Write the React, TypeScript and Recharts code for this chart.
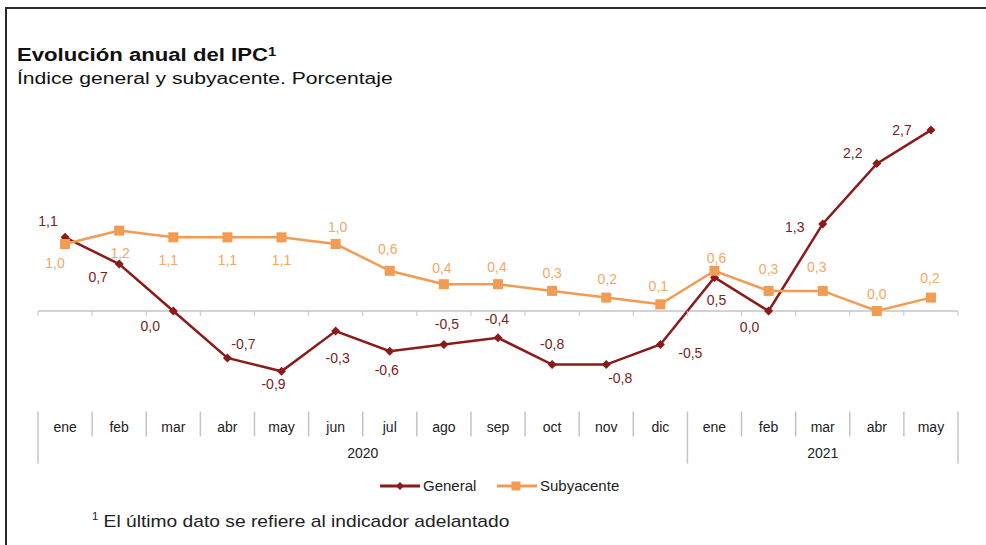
import { LineChart, Line, XAxis, YAxis, ReferenceLine, LabelList } from "recharts";

const months = ["ene", "feb", "mar", "abr", "may", "jun", "jul", "ago", "sep", "oct", "nov", "dic", "ene", "feb", "mar", "abr", "may"];
const yearLabels = ["2020", "2021"];
const yearSpans = [12, 5];
const general = [1.1, 0.7, 0.0, -0.7, -0.9, -0.3, -0.6, -0.5, -0.4, -0.8, -0.8, -0.5, 0.5, 0.0, 1.3, 2.2, 2.7];
const subyacente = [1.0, 1.2, 1.1, 1.1, 1.1, 1.0, 0.6, 0.4, 0.4, 0.3, 0.2, 0.1, 0.6, 0.3, 0.3, 0.0, 0.2];

// label offsets (dx, dy) as Excel placed them
const generalLabelPos = [
  [-17, -16], [-21, 13], [-23, 15], [16, -14], [-8, 13], [2, 27], [-3, 19], [3, -21], [-1, -19],
  [0, -21], [14, 13], [30, 8], [2, 22], [-19, 16], [-28, 3], [-24, -11], [-29, 0],
];
const subLabelPos = [
  [-10, 19], [1, 22], [-5, 23], [0, 23], [0, 23], [2, -17], [-2, -22], [-2, -16], [-1, -17],
  [0, -18], [1, -19], [-2, -18], [2, -13], [0, -22], [-6, -24], [0, -17], [-1, -20],
];

const data = months.map((m, i) => ({ month: m, general: general[i], subyacente: subyacente[i] }));

const W = 986;
const H = 545;
const M = { top: 110, right: 28, left: 38, bottom: 73.5 };
const AXIS_H = 60;
const PLOT_W = W - M.left - M.right;
const PLOT_BOTTOM = H - M.bottom - AXIS_H;
const Y_MIN = -1.5;
const Y_MAX = 3;
const ZERO_Y = M.top + ((Y_MAX - 0) / (Y_MAX - Y_MIN)) * (PLOT_BOTTOM - M.top);
const BAND = PLOT_W / months.length;

const RED = "#8b1a1a";
const RED_TEXT = "#7a2222";
const ORANGE = "#f29b52";
const ORANGE_TEXT = "#f4a766";
const GRID = "#c4c4c4";
const FONT = "'Liberation Sans', Arial, sans-serif";

const fmt = (v: number) => v.toFixed(1).replace(".", ",");

function MonthTick(props: any) {
  const { x, payload } = props;
  const index = payload.index;
  const left = x - BAND / 2;
  const yearStarts: number[] = [];
  let acc = 0;
  yearSpans.forEach((s) => {
    yearStarts.push(acc);
    acc += s;
  });
  const yearIdx = yearStarts.indexOf(index);
  const isLast = index === months.length - 1;
  return (
    <g>
      <line x1={left} x2={left} y1={ZERO_Y} y2={ZERO_Y + 5} stroke={GRID} />
      {isLast && <line x1={x + BAND / 2} x2={x + BAND / 2} y1={ZERO_Y} y2={ZERO_Y + 5} stroke={GRID} />}
      <line x1={left} x2={left} y1={PLOT_BOTTOM} y2={yearIdx >= 0 ? PLOT_BOTTOM + 52 : PLOT_BOTTOM + 25} stroke={GRID} strokeWidth={1.5} />
      {isLast && (
        <line x1={x + BAND / 2} x2={x + BAND / 2} y1={PLOT_BOTTOM} y2={PLOT_BOTTOM + 52} stroke={GRID} strokeWidth={1.5} />
      )}
      <text x={x} y={PLOT_BOTTOM + 20} textAnchor="middle" fontSize={14} fill="#222" fontFamily={FONT}>
        {payload.value}
      </text>
      {yearIdx >= 0 && (
        <text
          x={left + (yearSpans[yearIdx] * BAND) / 2}
          y={PLOT_BOTTOM + 46}
          textAnchor="middle"
          fontSize={14}
          fill="#222"
          fontFamily={FONT}
        >
          {yearLabels[yearIdx]}
        </text>
      )}
    </g>
  );
}

const makeLabel = (pos: number[][], color: string) => (props: any) => {
  const { x, y, value, index } = props;
  const [dx, dy] = pos[index];
  return (
    <text x={x + dx} y={y + dy} dy={5} textAnchor="middle" fontSize={14} fill={color} fontFamily={FONT}>
      {fmt(value)}
    </text>
  );
};

const Diamond = ({ cx, cy, size = 4.5 }: any) => {
  if (cx == null || cy == null) return null;
  return <polygon points={`${cx},${cy - size} ${cx + size},${cy} ${cx},${cy + size} ${cx - size},${cy}`} fill={RED} />;
};

const Square = ({ cx, cy, side = 10 }: any) => {
  if (cx == null || cy == null) return null;
  return <rect x={cx - side / 2} y={cy - side / 2} width={side} height={side} fill={ORANGE} />;
};

function LegendItem({ name, color, marker, left }: any) {
  return (
    <div style={{ position: "absolute", left, top: 0, display: "flex", alignItems: "center", whiteSpace: "nowrap" }}>
      <svg width={40} height={14} style={{ marginRight: 3 }}>
        <line x1={0} x2={40} y1={7} y2={7} stroke={color} strokeWidth={3} />
        {marker}
      </svg>
      <span style={{ fontSize: 15, color: "#222", fontFamily: FONT }}>{name}</span>
    </div>
  );
}

export default function App() {
  return (
    <div style={{ position: "absolute", left: 0, top: 0, width: W, height: H, background: "#fff", overflow: "hidden" }}>
      <div
        style={{
          position: "absolute",
          left: 5,
          top: 7,
          width: W,
          height: H,
          borderTop: "2px solid #2a2a2a",
          borderLeft: "2px solid #2a2a2a",
        }}
      />
      <div
        style={{
          position: "absolute",
          left: 17,
          top: 45,
          fontFamily: FONT,
          color: "#111",
          whiteSpace: "nowrap",
          fontSize: 18,
          fontWeight: "bold",
          lineHeight: "21px",
          transform: "scaleX(1.23)",
          transformOrigin: "0 0",
        }}
      >
        Evolución anual del IPC<sup style={{ fontSize: 12, verticalAlign: "top", position: "relative", top: -3 }}>1</sup>
      </div>
      <div
        style={{
          position: "absolute",
          left: 17,
          top: 69,
          fontFamily: FONT,
          color: "#111",
          whiteSpace: "nowrap",
          fontSize: 16,
          lineHeight: "20px",
          transform: "scaleX(1.32)",
          transformOrigin: "0 0",
        }}
      >
        Índice general y subyacente. Porcentaje
      </div>
      <div style={{ position: "absolute", left: 0, top: 0 }}>
        <LineChart width={W} height={H} data={data} margin={M}>
          <YAxis hide domain={[Y_MIN, Y_MAX]} />
          <XAxis
            dataKey="month"
            interval={0}
            axisLine={false}
            tickLine={false}
            height={AXIS_H}
            padding={{ left: BAND / 2, right: BAND / 2 }}
            tick={<MonthTick />}
          />
          <ReferenceLine y={0} stroke={GRID} strokeWidth={1.5} />
          <Line
            dataKey="general"
            name="General"
            stroke={RED}
            strokeWidth={2.5}
            dot={(p: any) => <Diamond key={`g${p.index}`} cx={p.cx} cy={p.cy} />}
            activeDot={false}
            isAnimationActive={false}
          >
            <LabelList dataKey="general" content={makeLabel(generalLabelPos, RED_TEXT)} />
          </Line>
          <Line
            dataKey="subyacente"
            name="Subyacente"
            stroke={ORANGE}
            strokeWidth={2.5}
            dot={(p: any) => <Square key={`s${p.index}`} cx={p.cx} cy={p.cy} />}
            activeDot={false}
            isAnimationActive={false}
          >
            <LabelList dataKey="subyacente" content={makeLabel(subLabelPos, ORANGE_TEXT)} />
          </Line>
        </LineChart>
      </div>
      <div style={{ position: "absolute", left: 0, top: 477, width: W, height: 18 }}>
        <LegendItem name="General" color={RED} left={380} marker={<Diamond cx={20} cy={7} size={4} />} />
        <LegendItem name="Subyacente" color={ORANGE} left={497} marker={<Square cx={19} cy={7} side={9} />} />
      </div>
      <div
        style={{
          position: "absolute",
          left: 92,
          top: 512,
          fontFamily: FONT,
          fontSize: 17,
          color: "#222",
          whiteSpace: "nowrap",
          transform: "scaleX(1.13)",
          transformOrigin: "0 0",
        }}
      >
        <sup style={{ fontSize: 10, verticalAlign: "top", position: "relative", top: -1 }}>1</sup> El último dato se refiere al indicador adelantado
      </div>
    </div>
  );
}
